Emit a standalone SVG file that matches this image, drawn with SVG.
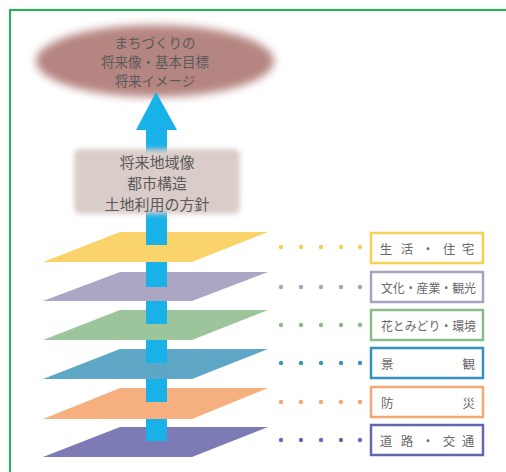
<svg xmlns="http://www.w3.org/2000/svg" width="506" height="472" viewBox="0 0 506 472">
<defs>
<filter id="blur" x="-20%" y="-30%" width="140%" height="160%"><feGaussianBlur stdDeviation="4"/></filter>
<filter id="blur2" x="-20%" y="-30%" width="140%" height="160%"><feGaussianBlur stdDeviation="2.5"/></filter>
<style>
.t{font-family:"Noto Sans CJK JP","Noto Sans CJK SC",sans-serif;fill:#5a5a5a;text-anchor:middle}
.l{font-family:"Noto Sans CJK JP","Noto Sans CJK SC",sans-serif;fill:#6a6a6a;font-size:12.5px;dominant-baseline:central}
.box{fill:#fff;stroke-width:2.5}
</style>
</defs>
<rect width="506" height="472" fill="#fff"/>
<rect x="10" y="10" width="620" height="620" fill="none" stroke="#1db650" stroke-width="2"/>

<g id="vision">
<ellipse cx="155" cy="61" rx="119" ry="36" fill="#b58581" filter="url(#blur)"/>
<text class="t" font-size="13.5" x="155" y="48">まちづくりの</text>
<text class="t" font-size="13.5" x="155" y="67">将来像・基本目標</text>
<text class="t" font-size="13.5" x="155" y="86">将来イメージ</text>
</g>

<g id="connectors">
<polygon points="156,92 177,130 167,130 167,441 146,441 146,130 136,130" fill="#18b1e8"/>
</g>

<g id="structure">
<rect x="74" y="149" width="166" height="65" rx="6" fill="#dacdc9" filter="url(#blur2)"/>
<text class="t" font-size="15" x="157" y="168">将来地域像</text>
<text class="t" font-size="15" x="157" y="189">都市構造</text>
<text class="t" font-size="15" x="157" y="210">土地利用の方針</text>
</g>

<g id="layer-life">
<polygon points="43,262 120,232 268,232 192,262" fill="#fbd36b"/>
<rect x="146" y="232" width="21" height="13" fill="#18b1e8"/>
<rect x="146" y="245" width="21" height="17" fill="#fbd36b" opacity="0.7"/>
</g>
<g id="layer-culture">
<polygon points="43,301 120,272 268,272 192,301" fill="#aca6c5"/>
<rect x="146" y="272" width="21" height="15" fill="#18b1e8"/>
<rect x="146" y="287" width="21" height="14" fill="#aca6c5" opacity="0.7"/>
</g>
<g id="layer-green">
<polygon points="43,340 120,310 268,310 192,340" fill="#9cc59c"/>
<rect x="146" y="310" width="21" height="14" fill="#18b1e8"/>
<rect x="146" y="324" width="21" height="16" fill="#9cc59c" opacity="0.7"/>
</g>
<g id="layer-landscape">
<polygon points="43,379 120,349 268,349 192,379" fill="#5ea7c6"/>
<rect x="146" y="349" width="21" height="14" fill="#18b1e8"/>
<rect x="146" y="363" width="21" height="16" fill="#5ea7c6" opacity="0.6"/>
</g>
<g id="layer-disaster">
<polygon points="43,419 120,388 268,388 192,419" fill="#f6b07f"/>
<rect x="146" y="388" width="21" height="14" fill="#18b1e8"/>
<rect x="146" y="402" width="21" height="17" fill="#f6b07f" opacity="0.7"/>
</g>
<g id="layer-road">
<polygon points="43,457 120,427 268,427 192,457" fill="#7d7bb6"/>
<rect x="146" y="427" width="21" height="14" fill="#18b1e8"/>
</g>

<g id="label-life">
<g fill="#f7cd55"><circle cx="281" cy="247" r="2.2"/><circle cx="301" cy="247" r="2.2"/><circle cx="321" cy="247" r="2.2"/><circle cx="341" cy="247" r="2.2"/><circle cx="360" cy="247" r="2.2"/></g>
<rect class="box" x="371" y="233" width="112" height="30" stroke="#f8d055"/>
<text class="l" y="248" x="386 407 428 449 468" text-anchor="middle">生活・住宅</text>
</g>
<g id="label-culture">
<g fill="#a8a2c3"><circle cx="281" cy="287" r="2.2"/><circle cx="301" cy="287" r="2.2"/><circle cx="321" cy="287" r="2.2"/><circle cx="341" cy="287" r="2.2"/><circle cx="360" cy="287" r="2.2"/></g>
<rect class="box" x="371" y="272" width="112" height="30" stroke="#a8a2c3"/>
<text class="l" y="287" x="381" textLength="95" lengthAdjust="spacingAndGlyphs">文化・産業・観光</text>
</g>
<g id="label-green">
<g fill="#8bbd8a"><circle cx="281" cy="325" r="2.2"/><circle cx="301" cy="325" r="2.2"/><circle cx="321" cy="325" r="2.2"/><circle cx="341" cy="325" r="2.2"/><circle cx="360" cy="325" r="2.2"/></g>
<rect class="box" x="371" y="310" width="112" height="30" stroke="#88bb86"/>
<text class="l" y="325" x="381" textLength="95" lengthAdjust="spacingAndGlyphs">花とみどり・環境</text>
</g>
<g id="label-landscape">
<g fill="#3795bf"><circle cx="281" cy="363" r="2.2"/><circle cx="301" cy="363" r="2.2"/><circle cx="321" cy="363" r="2.2"/><circle cx="341" cy="363" r="2.2"/><circle cx="360" cy="363" r="2.2"/></g>
<rect class="box" x="371" y="348" width="112" height="30" stroke="#3592be"/>
<text class="l" y="363" x="381">景</text>
<text class="l" y="363" x="475" text-anchor="end">観</text>
</g>
<g id="label-disaster">
<g fill="#f3a772"><circle cx="281" cy="402" r="2.2"/><circle cx="301" cy="402" r="2.2"/><circle cx="321" cy="402" r="2.2"/><circle cx="341" cy="402" r="2.2"/><circle cx="360" cy="402" r="2.2"/></g>
<rect class="box" x="371" y="387" width="112" height="30" stroke="#f3a772"/>
<text class="l" y="402" x="381">防</text>
<text class="l" y="402" x="475" text-anchor="end">災</text>
</g>
<g id="label-road">
<g fill="#6868ae"><circle cx="281" cy="440" r="2.2"/><circle cx="301" cy="440" r="2.2"/><circle cx="321" cy="440" r="2.2"/><circle cx="341" cy="440" r="2.2"/><circle cx="360" cy="440" r="2.2"/></g>
<rect class="box" x="371" y="425" width="112" height="30" stroke="#6567ae"/>
<text class="l" y="440" x="386 407 428 449 468" text-anchor="middle">道路・交通</text>
</g>
</svg>
